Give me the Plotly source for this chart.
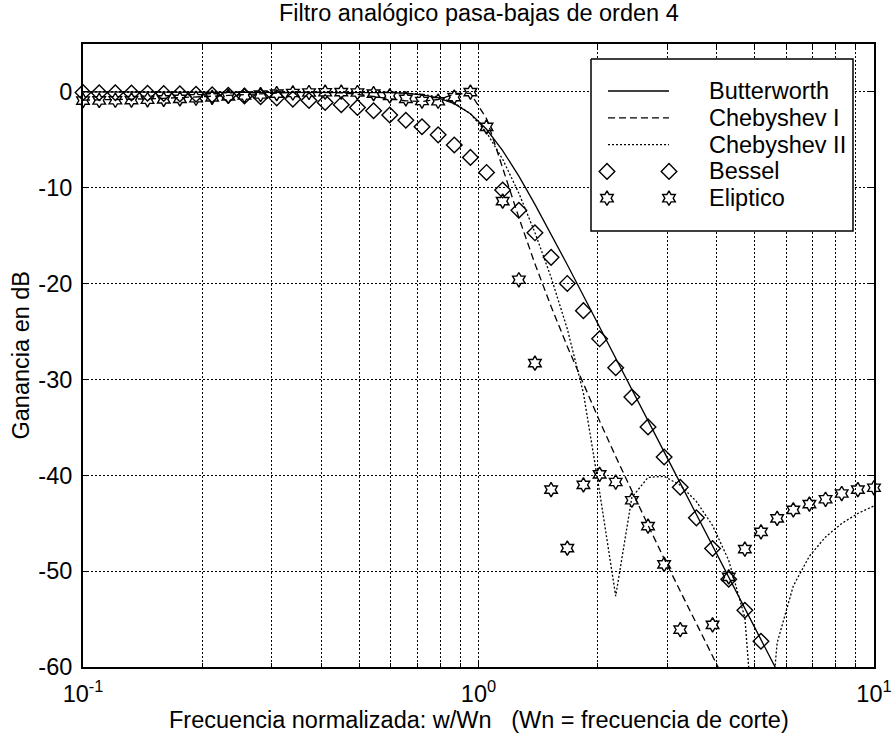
import plotly.graph_objects as go

# ---------------- data ----------------
freq = [0.1, 0.1099, 0.1207, 0.1326, 0.1456, 0.16, 0.1758, 0.1931, 0.2121, 0.233,
        0.256, 0.2812, 0.3089, 0.3393, 0.3728, 0.4095, 0.4498, 0.4942, 0.5429, 0.5964,
        0.6551, 0.7197, 0.7906, 0.8685, 0.9541, 1.048, 1.151, 1.265, 1.389, 1.526,
        1.677, 1.842, 2.024, 2.223, 2.442, 2.683, 2.947, 3.237, 3.556, 3.907,
        4.292, 4.715, 5.179, 5.69, 6.251, 6.866, 7.543, 8.286, 9.103, 10.0]

butterworth = [0, 0, 0, 0, 0, 0, 0, 0, 0, 0,
               0, 0, 0, 0, 0, 0, -0.01, -0.02, -0.03, -0.07,
               -0.14, -0.30, -0.62, -1.22, -2.27, -3.90, -6.12, -8.78, -11.73, -14.84,
               -18.03, -21.26, -24.50, -27.76, -31.02, -34.29, -37.55, -40.82, -44.08, -47.35,
               -50.61, -53.88, -57.14, -60.41, -63.67, -66.94, -70.20, -73.47, -76.73, -80.0]

chebyshev1 = [-0.86, -0.84, -0.80, -0.76, -0.72, -0.67, -0.61, -0.54, -0.46, -0.37,
              -0.28, -0.19, -0.11, -0.04, 0.0, -0.02, -0.09, -0.25, -0.47, -0.72,
              -0.93, -1.0, -0.79, -0.25, -0.13, -2.79, -7.88, -13.12, -17.94, -22.38,
              -26.55, -30.52, -34.34, -38.04, -41.66, -45.20, -48.70, -52.15, -55.57, -58.96,
              -62.32, -65.67, -69.01, -72.33, -75.6, -78.9, -82.2, -85.4, -88.7, -92.0]

chebyshev2 = [0, 0, 0, 0, 0, 0, 0, 0, 0, 0,
              0, 0, 0, 0, 0, 0, 0, -0.01, -0.02, -0.05,
              -0.11, -0.24, -0.53, -1.13, -2.28, -4.23, -7.03, -10.57, -14.68, -19.35,
              -24.73, -31.42, -41.74, -52.6, -42.31, -40.22, -40.11, -41.03, -42.73, -45.24,
              -48.87, -54.87, -76.5, -57.48, -51.54, -48.43, -46.43, -45.02, -43.98, -43.19]

bessel = [-0.06, -0.08, -0.09, -0.11, -0.14, -0.16, -0.20, -0.24, -0.29, -0.35,
          -0.42, -0.51, -0.62, -0.75, -0.90, -1.10, -1.33, -1.62, -1.97, -2.41,
          -2.96, -3.64, -4.48, -5.54, -6.83, -8.40, -10.24, -12.35, -14.70, -17.26,
          -19.98, -22.82, -25.76, -28.77, -31.84, -34.95, -38.09, -41.25, -44.44, -47.64,
          -50.85, -54.08, -57.31, -60.54, -63.8, -67.1, -70.3, -73.6, -76.9, -80.1]

eliptico = [-0.9, -0.89, -0.87, -0.85, -0.82, -0.78, -0.73, -0.66, -0.57, -0.47,
            -0.37, -0.27, -0.18, -0.11, -0.06, -0.03, -0.02, -0.06, -0.18, -0.42,
            -0.72, -0.95, -0.97, -0.55, -0.02, -3.65, -11.4, -19.6, -28.3, -41.5,
            -47.6, -41.0, -39.9, -40.7, -42.6, -45.3, -49.3, -56.1, -68.0, -55.6,
            -50.6, -47.7, -45.9, -44.5, -43.6, -43.0, -42.5, -41.9, -41.5, -41.3]

x_tickvals = [0.1, 1, 10]
x_ticktext = ["10<sup>-1</sup>", "10<sup>0</sup>", "10<sup>1</sup>"]
x_minorvals = [0.2, 0.3, 0.4, 0.5, 0.6, 0.7, 0.8, 0.9,
               2, 3, 4, 5, 6, 7, 8, 9]
y_tickvals = [-60, -50, -40, -30, -20, -10, 0]
y_ticktext = ["-60", "-50", "-40", "-30", "-20", "-10", "0"]

legend_names = ["Butterworth", "Chebyshev I", "Chebyshev II", "Bessel", "Eliptico"]

title_text = "Filtro analógico pasa-bajas de orden 4"
xlabel_text = "Frecuencia normalizada: w/Wn\u00a0\u00a0\u00a0(Wn = frecuencia de corte)"
ylabel_text = "Ganancia en dB"

# ---------------- style ----------------
FONT = "Liberation Sans, Arial, Helvetica, sans-serif"
FS = 23.5
LW = 1.3
GRID_DASH = "2px,2px"
styles = {
    "Butterworth": dict(color="black", width=LW),
    "Chebyshev I": dict(color="black", width=LW, dash="7px,4px"),
    "Chebyshev II": dict(color="black", width=LW, dash="2px,2px"),
}
diamond = dict(symbol="diamond-open", size=12, color="black", line=dict(width=1.4, color="black"))
star = dict(symbol="hexagram-open", size=11, color="black", line=dict(width=1.4, color="black"))

L, R, T, B = 83, 19, 44, 77
W, H = 893, 744


def in_view(xs, ys, lo=-60.0):
    px, py = [], []
    for a, b in zip(xs, ys):
        if b >= lo:
            px.append(a)
            py.append(b)
    return px, py


fig = go.Figure()
fig.add_trace(go.Scatter(x=freq, y=butterworth, mode="lines", line=styles["Butterworth"],
                         showlegend=False, hoverinfo="skip"))
fig.add_trace(go.Scatter(x=freq, y=chebyshev1, mode="lines", line=styles["Chebyshev I"],
                         showlegend=False, hoverinfo="skip"))
fig.add_trace(go.Scatter(x=freq, y=chebyshev2, mode="lines", line=styles["Chebyshev II"],
                         showlegend=False, hoverinfo="skip"))
bx, by = in_view(freq, bessel)
fig.add_trace(go.Scatter(x=bx, y=by, mode="markers", marker=diamond, cliponaxis=False,
                         showlegend=False, hoverinfo="skip"))
ex, ey = in_view(freq, eliptico)
fig.add_trace(go.Scatter(x=ex, y=ey, mode="markers", marker=star, cliponaxis=False,
                         showlegend=False, hoverinfo="skip"))

# ---------------- legend (overlay axes in pixel units) ----------------
box_x = [591, 853, 853, 591, 591]
box_y = [59, 59, 231, 231, 59]
fig.add_trace(go.Scatter(x=box_x, y=box_y, xaxis="x2", yaxis="y2", mode="lines", fill="toself",
                         fillcolor="white", line=dict(color="black", width=1.5),
                         showlegend=False, hoverinfo="skip"))

leg_y = [91, 117.8, 144.6, 171.4, 198.2]
for name, yy in zip(legend_names, leg_y):
    if name in styles:
        fig.add_trace(go.Scatter(x=[608, 669], y=[yy, yy], xaxis="x2", yaxis="y2", mode="lines",
                                 line=styles[name], showlegend=False, hoverinfo="skip"))
    else:
        fig.add_trace(go.Scatter(x=[607, 669], y=[yy, yy], xaxis="x2", yaxis="y2", mode="markers",
                                 marker=diamond if name == "Bessel" else star, cliponaxis=False,
                                 showlegend=False, hoverinfo="skip"))
    fig.add_annotation(x=707, y=yy, xref="x2", yref="y2", text=name, showarrow=False,
                       xanchor="left", yanchor="middle", font=dict(family=FONT, size=FS, color="black"))

# ---------------- titles ----------------
ph = H - T - B
pw = W - L - R
fig.add_annotation(x=0.5, y=(H - B - 13) / ph, xref="paper", yref="paper", text=title_text,
                   showarrow=False, xanchor="center", yanchor="middle",
                   font=dict(family=FONT, size=FS, color="black"))
fig.add_annotation(x=0.5, y=(H - B - 720) / ph, xref="paper", yref="paper", text=xlabel_text,
                   showarrow=False, xanchor="center", yanchor="middle",
                   font=dict(family=FONT, size=FS, color="black"))
fig.add_annotation(x=(20 - L) / pw, y=0.5, xref="paper", yref="paper", text=ylabel_text,
                   showarrow=False, xanchor="center", yanchor="middle", textangle=-90,
                   font=dict(family=FONT, size=FS, color="black"))

axis_common = dict(showline=True, linecolor="black", linewidth=2, mirror="ticks",
                   ticks="inside", ticklen=6, tickcolor="black", tickwidth=1,
                   showgrid=True, gridcolor="black", gridwidth=1, griddash=GRID_DASH,
                   zeroline=False, tickangle=0, automargin=False,
                   tickfont=dict(family=FONT, size=FS, color="black"))

fig.update_layout(
    width=W, height=H, autosize=False,
    margin=dict(l=L, r=R, t=T, b=B, pad=0),
    paper_bgcolor="white", plot_bgcolor="white",
    showlegend=False,
    xaxis=dict(type="log", range=[-1, 1], tickmode="array", tickvals=x_tickvals,
               ticktext=x_ticktext, ticklabelstandoff=5,
               minor=dict(tickmode="array", tickvals=x_minorvals, ticks="inside", ticklen=4,
                          tickcolor="black", tickwidth=1, showgrid=True, gridcolor="black",
                          gridwidth=1, griddash=GRID_DASH),
               **axis_common),
    yaxis=dict(range=[-60, 5], tickmode="array", tickvals=y_tickvals, ticktext=y_ticktext,
               ticklabelstandoff=4, **axis_common),
    xaxis2=dict(overlaying="x", range=[L, W - R], visible=False, fixedrange=True),
    yaxis2=dict(overlaying="y", range=[H - B, T], visible=False, fixedrange=True),
)

fig.write_html("out.html")
